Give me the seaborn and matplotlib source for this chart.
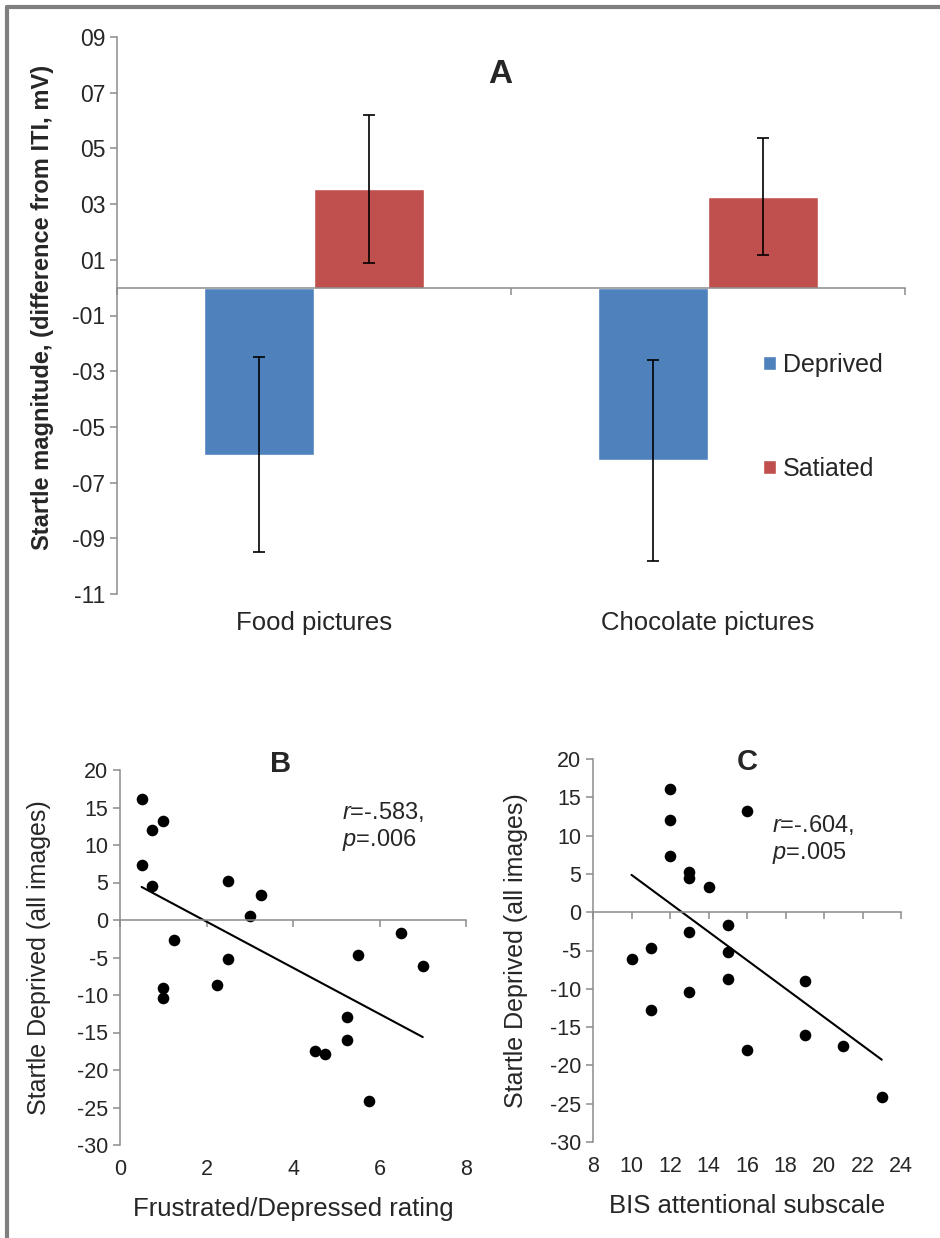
import numpy as np
import pandas as pd
import matplotlib
matplotlib.use("Agg")
import matplotlib.pyplot as plt
import matplotlib.lines as mlines
import seaborn as sns

# Panel A: startle magnitude by picture type
categories = ["Food pictures", "Chocolate pictures"]
groups = ["Deprived", "Satiated"]
deprived_mean = [-6.0, -6.2]
satiated_mean = [3.55, 3.27]
deprived_err = [3.5, 3.6]
satiated_err = [2.65, 2.1]
a_yticks = list(range(-11, 10, 2))

# Panel B: frustrated/depressed rating vs startle
b_x = [0.5, 0.75, 1.0, 0.5, 0.75, 2.5, 3.25, 3.0, 1.25, 2.5, 1.0, 1.0, 2.25,
       6.5, 5.5, 7.0, 5.25, 5.25, 4.5, 4.75, 5.75]
b_y = [16.1, 12.0, 13.2, 7.4, 4.5, 5.2, 3.3, 0.5, -2.6, -5.2, -9.0, -10.4, -8.7,
       -1.7, -4.6, -6.1, -12.9, -16.0, -17.5, -17.9, -24.1]

# Panel C: BIS attentional subscale vs startle
c_x = [12, 12, 12, 16, 13, 13, 14, 15, 13, 11, 10, 15, 15, 13, 11, 19, 19, 16, 21, 23]
c_y = [16.1, 12.0, 7.4, 13.2, 5.2, 4.4, 3.3, -1.7, -2.6, -4.65, -6.1, -5.2, -8.7,
       -10.4, -12.8, -9.0, -16.0, -18.0, -17.5, -24.1]

blue = "#4F81BD"
red = "#C0504D"
axis_grey = "#8C8C8C"

sns.set_style("white")
plt.rcParams["font.family"] = ["Liberation Sans", "DejaVu Sans"]
plt.rcParams["axes.unicode_minus"] = False
plt.rcParams["mathtext.fontset"] = "custom"
plt.rcParams["mathtext.it"] = "Liberation Sans:italic"
plt.rcParams["mathtext.rm"] = "Liberation Sans"

W, H = 940, 1238
fig = plt.figure(figsize=(W / 100, H / 100), dpi=100)


def px_axes(x0, y0, x1, y1):
    return fig.add_axes([x0 / W, 1 - y1 / H, (x1 - x0) / W, (y1 - y0) / H])


def style_axes(ax):
    for s in ["top", "right"]:
        ax.spines[s].set_visible(False)
    for s in ["left", "bottom"]:
        ax.spines[s].set_color(axis_grey)
        ax.spines[s].set_linewidth(1.1)
    ax.spines["bottom"].set_position(("data", 0))
    ax.tick_params(axis="both", direction="out", color=axis_grey, width=1.1,
                   length=5, left=True, bottom=True)
    ax.tick_params(axis="x", labelbottom=False)


# ---------- Panel A ----------
axA = px_axes(117, 37, 905, 594)
df = pd.DataFrame({
    "category": categories * 2,
    "group": [groups[0]] * 2 + [groups[1]] * 2,
    "value": deprived_mean + satiated_mean,
})
sns.barplot(data=df, x="category", y="value", hue="group", order=categories,
            hue_order=groups, palette=[blue, red], width=0.56, saturation=1,
            errorbar=None, ax=axA)
for cont, errs in zip(axA.containers, [deprived_err, satiated_err]):
    xs = [b.get_x() + b.get_width() / 2 for b in cont]
    ys = [b.get_y() + b.get_height() for b in cont]
    axA.errorbar(xs, ys, yerr=errs, fmt="none", ecolor="black", elinewidth=1.2,
                 capsize=4, capthick=1.2)
axA.set_ylim(-11, 9)
axA.set_xlim(-0.5, 1.5)
style_axes(axA)
axA.set_yticks(a_yticks)
axA.set_yticklabels([("-" if v < 0 else "") + f"{abs(v):02d}" for v in a_yticks],
                    fontsize=16.5)
axA.set_xticks([-0.5, 0.5, 1.5])
axA.set_xlabel("")
axA.set_ylabel("Startle magnitude, (difference from ITI, mV)", fontsize=17,
               fontweight="bold")
axA.yaxis.set_label_coords(-0.08, 0.515)
secA = axA.secondary_xaxis("bottom")
secA.set_xticks([0, 1], labels=categories)
secA.tick_params(length=0, pad=12, labelsize=18.5)
secA.spines["bottom"].set_visible(False)
axA.text(0.486, 0.932, "A", transform=axA.transAxes, ha="center", va="center",
         fontsize=24, fontweight="bold")
handles, labels = axA.get_legend_handles_labels()
axA.legend(handles, labels, loc="upper left", bbox_to_anchor=(0.82, 0.433),
           frameon=False, fontsize=18, handlelength=0.5, handleheight=0.5,
           handletextpad=0.3, labelspacing=3.2, borderpad=0, borderaxespad=0)


# ---------- Panels B and C ----------
def scatter_panel(ax, x, y, xlim, xticks, xlabel, title, title_xy, note, note_xy):
    sns.regplot(x=x, y=y, ax=ax, ci=None, truncate=True,
                scatter_kws=dict(s=70, color="black", linewidths=0, alpha=1),
                line_kws=dict(color="black", lw=1.5))
    ax.set_xlim(*xlim)
    ax.set_ylim(-30, 20)
    style_axes(ax)
    ax.set_xticks(xticks)
    ax.set_yticks(range(-30, 21, 5))
    ax.tick_params(axis="y", labelsize=15.5)
    ax.set_ylabel("Startle Deprived (all images)", fontsize=18)
    sec = ax.secondary_xaxis("bottom")
    sec.set_xticks(xticks)
    sec.tick_params(length=0, pad=10, labelsize=15.5)
    sec.spines["bottom"].set_visible(False)
    sec.set_xlabel(xlabel, fontsize=18.5, labelpad=12)
    ax.text(title_xy[0], title_xy[1], title, transform=ax.transAxes, ha="center",
            va="center", fontsize=21, fontweight="bold")
    ax.text(note_xy[0], note_xy[1], note, ha="left", va="center", fontsize=17,
            linespacing=1.15)


axB = px_axes(120, 770, 466, 1145)
scatter_panel(axB, b_x, b_y, (0, 8), list(range(0, 9, 2)),
              "Frustrated/Depressed rating", "B", (0.465, 1.015),
              "$r$=-.583,\n$p$=.006", (5.13, 12.5))
axB.yaxis.set_label_coords(-0.2, 0.5)

axC = px_axes(593, 759, 901, 1142)
scatter_panel(axC, c_x, c_y, (8, 24), list(range(8, 25, 2)),
              "BIS attentional subscale", "C", (0.5, 0.992),
              "$r$=-.604,\n$p$=.005", (17.3, 9.5))
axC.yaxis.set_label_coords(-0.212, 0.5)

# grey frame along the left and top edge
frame = dict(color="#7F7F7F", lw=3, transform=fig.transFigure)
fig.add_artist(mlines.Line2D([7 / W, 7 / W], [0, 1 - 7 / H], **frame))
fig.add_artist(mlines.Line2D([7 / W, 1], [1 - 7 / H, 1 - 7 / H], **frame))

fig.savefig("out.png", dpi=100)
